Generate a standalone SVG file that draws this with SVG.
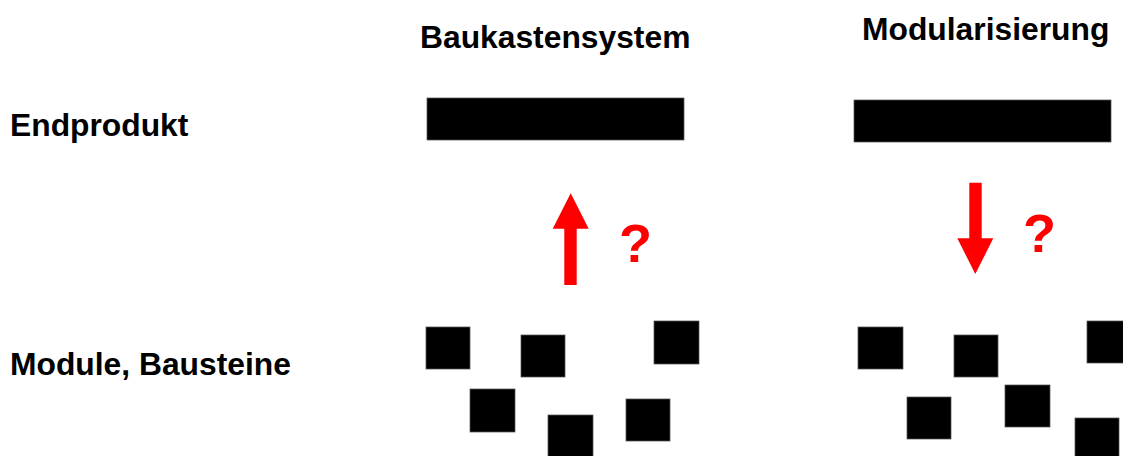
<svg xmlns="http://www.w3.org/2000/svg" width="1123" height="456" viewBox="0 0 1123 456">
<style>
.lbl{font-family:"Liberation Sans",Arial,sans-serif;font-weight:bold;font-size:31.8px;fill:#000}
.q{font-family:"Liberation Sans",Arial,sans-serif;font-weight:bold;font-size:54px;fill:#ff0000}
.blk{fill:#000;stroke:#555;stroke-width:0.75}
.arr{fill:#ff0000}
</style>
<rect width="1123" height="456" fill="#fff"/>
<g id="labels">
<text class="lbl" x="10" y="136">Endprodukt</text>
<text class="lbl" x="10" y="375">Module, Bausteine</text>
<text class="lbl" x="420" y="48">Baukastensystem</text>
<text class="lbl" x="862" y="40">Modularisierung</text>
</g>
<g id="endprodukt-baukasten"><rect class="blk" x="427" y="98" width="257" height="42"/></g>
<g id="endprodukt-modular"><rect class="blk" x="854" y="100" width="257" height="42"/></g>
<g id="module-baukasten">
<rect class="blk" x="426" y="327" width="44" height="42"/>
<rect class="blk" x="521" y="335" width="44" height="42"/>
<rect class="blk" x="654" y="321" width="45" height="43"/>
<rect class="blk" x="470" y="389" width="45" height="43"/>
<rect class="blk" x="548" y="415" width="45" height="43"/>
<rect class="blk" x="626" y="399" width="44" height="42"/>
</g>
<g id="module-modular">
<rect class="blk" x="858" y="327" width="45" height="42"/>
<rect class="blk" x="954" y="335" width="44" height="42"/>
<rect class="blk" x="1087" y="321" width="45" height="42"/>
<rect class="blk" x="907" y="397" width="44" height="42"/>
<rect class="blk" x="1005" y="385" width="45" height="42"/>
<rect class="blk" x="1075" y="418" width="44" height="42"/>
</g>
<g id="connectors">
<polygon class="arr" points="570.7,193.3 588.7,228.7 576.7,228.7 576.7,285 564.3,285 564.3,228.7 552.7,228.7"/>
<polygon class="arr" points="969.3,182.7 981.7,182.7 981.7,238.3 993.3,238.3 975.3,274 957.3,238.3 969.3,238.3"/>
</g>
<g id="questions">
<text class="q" x="619" y="262">?</text>
<text class="q" x="1023" y="252">?</text>
</g>
</svg>
